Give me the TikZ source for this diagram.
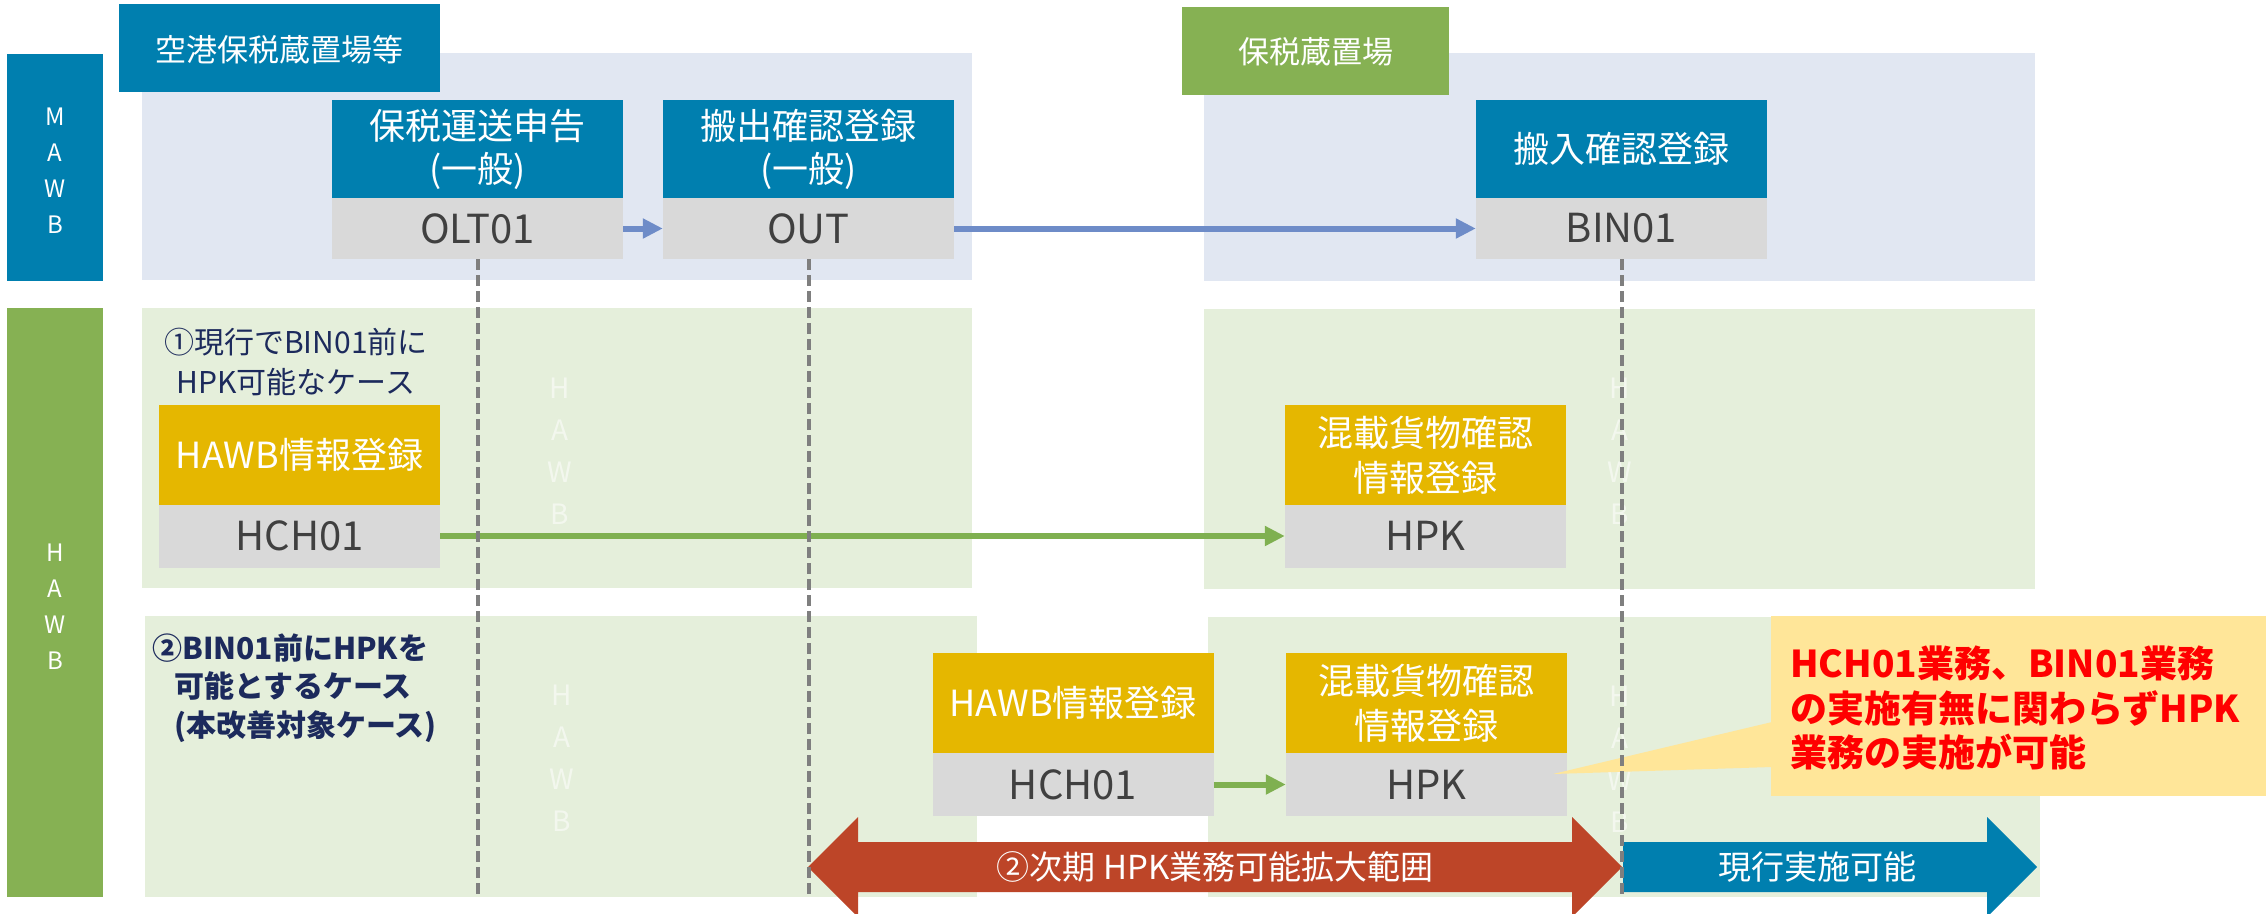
\documentclass[tikz,border=0pt]{standalone}
\usepackage{fontspec}
\newfontfamily\cjk{Noto Sans CJK JP}
\usetikzlibrary{arrows.meta}
\definecolor{cblue}{HTML}{007FAF}
\definecolor{cgreen}{HTML}{86B153}
\definecolor{cpanelb}{HTML}{E1E7F2}
\definecolor{cpanelg}{HTML}{E5EFDB}
\definecolor{cgray}{HTML}{D9D9D9}
\definecolor{cdark}{HTML}{404040}
\definecolor{cyellow}{HTML}{E5B700}
\definecolor{cred}{HTML}{BD4528}
\definecolor{ccall}{HTML}{FFE699}
\definecolor{cnavy}{HTML}{1C2A5C}
\definecolor{carrb}{HTML}{6E8CC8}
\definecolor{carrg}{HTML}{7FB050}
\definecolor{cdash}{HTML}{7F7F7F}
\newcommand{\myfs}[2]{\fontsize{#1pt}{#2pt}\selectfont}
\tikzset{
  head/.style={fill=cblue, text=white, minimum width=291pt, minimum height=98pt, inner sep=0pt, align=center, font=\cjk\myfs{36}{43}},
  code/.style={fill=cgray, text=cdark, minimum width=291pt, minimum height=61pt, inner sep=0pt, font=\cjk\myfs{40}{43}},
  yhead/.style={fill=cyellow, text=white, minimum width=281pt, minimum height=100pt, inner sep=0pt, align=center, font=\cjk\myfs{36}{45}},
  ycode/.style={fill=cgray, text=cdark, minimum width=281pt, minimum height=63pt, inner sep=0pt, font=\cjk\myfs{40}{43}},
  toplabel/.style={text=white, inner sep=0pt, font=\cjk\myfs{31}{36}},
  barletters/.style={text=white, inner sep=0pt, align=center, font=\cjk\myfs{24}{36}},
  faint/.style={text=white, text opacity=0.55, inner sep=0pt, align=center, font=\cjk\myfs{28}{42}},
  barrow/.style={draw=carrb, line width=6pt, -{Triangle[length=20pt,width=19pt]}},
  garrow/.style={draw=carrg, line width=6pt, -{Triangle[length=20pt,width=19pt]}},
  dashline/.style={draw=cdash, line width=4pt, dash pattern=on 11pt off 5pt},
  bigtext/.style={text=white, inner sep=0pt, font=\cjk\myfs{33}{38}}
}
\begin{document}
\begin{tikzpicture}[x=1pt,y=-1pt]
\useasboundingbox (0,0) rectangle (2266,913);
\fill[white] (0,0) rectangle (2266,913);
% panels
\fill[cpanelb] (142,53) rectangle (972,280);
\fill[cpanelb] (1204,53) rectangle (2035,281);
\fill[cpanelg] (142,308) rectangle (972,588);
\fill[cpanelg] (1204,309) rectangle (2035,589);
\fill[cpanelg] (145,616) rectangle (977,897);
\fill[cpanelg] (1208,617) rectangle (2040,897);
% top labels
\fill[cblue] (119,4) rectangle (440,92);
\node[toplabel] (lab1) at (279.5,50) {空港保税蔵置場等};
\fill[cgreen] (1182,7) rectangle (1449,95);
\node[toplabel] (lab2) at (1315.5,52) {保税蔵置場};
% side bars
\fill[cblue] (7,54) rectangle (103,281);
\node[barletters] (mawb) at (55,171) {M\\A\\W\\B};
\fill[cgreen] (7,308) rectangle (103,897);
\node[barletters] (hawb) at (55,607) {H\\A\\W\\B};
% faint labels
\node[faint] (f1) at (560,451) {H\\A\\W\\B};
\node[faint] (f2) at (1620,451) {H\\A\\W\\B};
\node[faint] (f3) at (562,758) {H\\A\\W\\B};
\node[faint] (f4) at (1620,759) {H\\A\\W\\B};
% row labels
\node[text=cnavy, inner sep=0pt, align=center, font=\cjk\myfs{30}{40}] (case1) at (296,362) {①現行でBIN01前に\\HPK可能なケース};
\node[text=cnavy, inner sep=0pt, align=left, anchor=west, font=\cjk\bfseries\myfs{30}{38.5}] (case2) at (152,688) {②BIN01前にHPKを\\\hspace*{22pt}可能とするケース\\\hspace*{22pt}(本改善対象ケース)};
% MAWB boxes
\node[head] (oltt) at (477.5,149) {保税運送申告\\(一般)};
\node[code] (olt) at (477.5,228.5) {OLT01};
\node[head] (outt) at (808.5,149) {搬出確認登録\\(一般)};
\node[code] (outc) at (808.5,228.5) {OUT};
\node[head] (bint) at (1621.5,149) {搬入確認登録};
\node[code] (bin) at (1621.5,228.5) {BIN01};
% HAWB boxes row 1
\node[yhead] (hawb1) at (299.5,455) {HAWB情報登録};
\node[ycode] (hch1) at (299.5,536) {HCH01};
\node[yhead] (hpkt1) at (1425.5,455) {混載貨物確認\\情報登録};
\node[ycode] (hpk1) at (1425.5,536) {HPK};
% HAWB boxes row 2
\node[yhead] (hawb2) at (1073,703) {HAWB情報登録};
\node[ycode] (hch2) at (1073,784.5) {HCH01};
\node[yhead] (hpkt2) at (1426.5,703) {混載貨物確認\\情報登録};
\node[ycode] (hpk2) at (1426.5,784.5) {HPK};
% connectors
\draw[barrow] (olt.east) -- (outc.west);
\draw[barrow] (outc.east) -- (bin.west);
\draw[garrow] (hch1.east) -- (hpk1.west);
\draw[garrow] (hch2.east) -- (hpk2.west);
% callout
\fill[ccall] (1771,616) rectangle (2270,796);
\fill[ccall] (1772,722) -- (1553,774) -- (1772,767) -- cycle;
\node[text=red, inner sep=0pt, align=left, anchor=west, font=\cjk\bfseries\myfs{37}{44.5}] (note) at (1790,708) {HCH01業務、BIN01業務\\の実施有無に関わらずHPK\\業務の実施が可能};
% bottom arrows
\fill[cred] (808,867) -- (858,817) -- (858,842) -- (1572,842) -- (1572,817) -- (1622,867) -- (1572,917) -- (1572,892) -- (858,892) -- (858,917) -- cycle;
\node[bigtext] (range) at (1215,867) {②次期 HPK業務可能拡大範囲};
\fill[cblue] (1623,842) -- (1987,842) -- (1987,817) -- (2037,867) -- (1987,917) -- (1987,892) -- (1623,892) -- cycle;
\node[bigtext] (now) at (1817,867) {現行実施可能};
% dashed lines
\coordinate (e1) at (477.5,899);
\coordinate (e2) at (808.5,899);
\coordinate (e3) at (1621.5,899);
\draw[dashline] (olt.south) -- (e1);
\draw[dashline] (outc.south) -- (e2);
\draw[dashline] (bin.south) -- (e3);
\end{tikzpicture}
\end{document}
